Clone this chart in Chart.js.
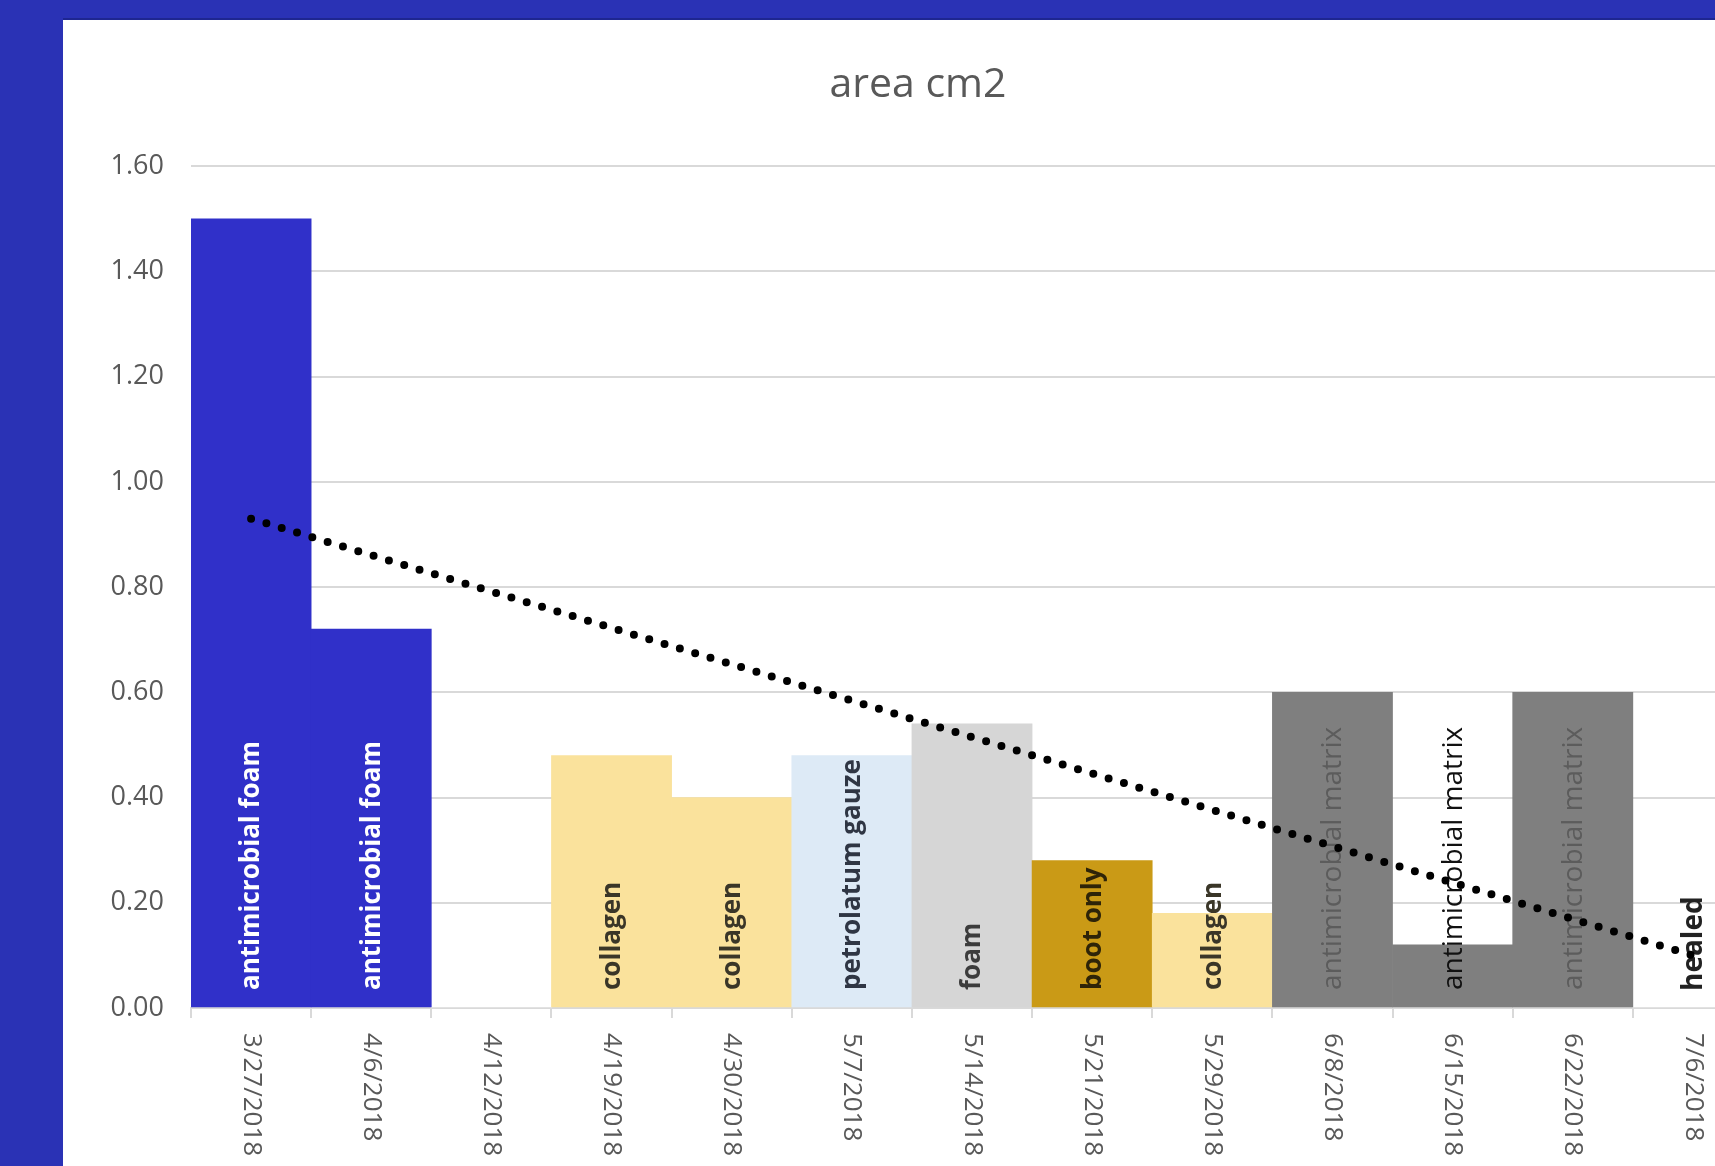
<!DOCTYPE html>
<html><head><meta charset="utf-8">
<script src="https://cdn.jsdelivr.net/npm/chart.js@4/dist/chart.umd.min.js"></script>
<style>
html,body{margin:0;padding:0;width:1715px;height:1166px;overflow:hidden;background:#2A32B5;}
#panel{position:absolute;left:63px;top:20px;width:1710px;height:1146px;background:#ffffff;box-shadow:0 -2px 0 #1E2690;}
canvas{position:absolute;left:0;top:0;}
</style></head><body>
<div id="panel"><canvas id="c" width="1710" height="1146"></canvas></div>
<script>
// ---- data ----
const dates = ['3/27/2018','4/6/2018','4/12/2018','4/19/2018','4/30/2018','5/7/2018','5/14/2018','5/21/2018','5/29/2018','6/8/2018','6/15/2018','6/22/2018','7/6/2018'];
const areas = [1.50, 0.72, 0, 0.48, 0.40, 0.48, 0.54, 0.28, 0.18, 0.60, 0.12, 0.60, 0];
const treatments = ['antimicrobial foam','antimicrobial foam','','collagen','collagen','petrolatum gauze','foam','boot only','collagen','antimicrobial matrix','antimicrobial matrix','antimicrobial matrix','healed'];
const trendDates = ['3/27/2018','7/6/2018'];
const trendValues = [0.93, 0.10];
const chartTitle = 'area cm2';

// ---- styles ----
const barColors = ['#3030C9','#3030C9','#ffffff','#FAE29C','#FAE29C','#DDEAF6','#D6D6D6','#CA9A16','#FAE29C','#7F7F7F','#7F7F7F','#7F7F7F','#ffffff'];
const labelColors = ['#ffffff','#ffffff','#000','#3a3628','#3a3628','#2f3644','#3c3c3c','#2e2408','#3a3628','#5c5c5c','#111111','#5c5c5c','#222222'];
const labelWeights = ['bold','bold','bold','bold','bold','bold','bold','bold','bold','normal','normal','normal','bold'];
const labelSizes = [26,26,26,26,26,26,26,26,26,28,28,28,28];
const FONT = '"Open Sans", "DejaVu Sans", sans-serif';

const labelPlugin = {
  id: 'barLabels',
  afterDatasetDraw(chart, args) {
    if (args.index !== 1) return;
    const ctx = chart.ctx;
    args.meta.data.forEach((bar, i) => {
      const t = treatments[i];
      if (!t) return;
      ctx.save();
      ctx.translate(bar.x + 1, bar.base - 17);
      ctx.rotate(-Math.PI / 2);
      ctx.font = labelWeights[i] + ' ' + labelSizes[i] + 'px ' + FONT;
      ctx.fillStyle = labelColors[i];
      ctx.textAlign = 'left';
      ctx.textBaseline = 'middle';
      ctx.fillText(t, 0, 0);
      ctx.restore();
    });
  },
  afterDraw(chart) {
    const xs = chart.scales.x;
    const ctx = chart.ctx;
    dates.forEach((d, i) => {
      const x = xs.getPixelForTick(i);
      ctx.save();
      ctx.translate(x, xs.top + 25);
      ctx.rotate(Math.PI / 2);
      ctx.font = '26px ' + FONT;
      ctx.fillStyle = '#595959';
      ctx.textAlign = 'left';
      ctx.textBaseline = 'middle';
      ctx.fillText(d, 0, 0);
      ctx.restore();
    });
  }
};

function build() {
  new Chart(document.getElementById('c'), {
    type: 'bar',
    data: {
      labels: dates,
      datasets: [
        {
          type: 'line',
          order: 0,
          data: trendDates.map((d, i) => ({ x: d, y: trendValues[i] })),
          borderColor: '#000000',
          borderWidth: 8,
          borderDash: [0, 16],
          borderCapStyle: 'round',
          pointRadius: 0,
          fill: false,
          tension: 0
        },
        {
          type: 'bar',
          order: 1,
          data: areas,
          backgroundColor: barColors,
          borderWidth: 0,
          barPercentage: 1,
          categoryPercentage: 1
        }
      ]
    },
    options: {
      responsive: false,
      animation: false,
      layout: { padding: { left: 20, right: 20, top: 0, bottom: 0 } },
      plugins: {
        legend: { display: false },
        tooltip: { enabled: false },
        title: {
          display: true,
          text: chartTitle,
          color: '#595959',
          font: { family: FONT, size: 41, weight: 'normal', lineHeight: 1.2 },
          padding: { top: 41, bottom: 56 }
        }
      },
      scales: {
        x: {
          offset: true,
          grid: { offset: true, drawOnChartArea: false, drawTicks: true, tickLength: 10, color: '#D9D9D9', lineWidth: 2 },
          border: { display: true, color: '#D9D9D9', width: 2 },
          ticks: { display: false },
          afterFit(s) { s.height = 158; }
        },
        y: {
          min: 0,
          max: 1.6,
          ticks: {
            stepSize: 0.2,
            padding: 27,
            color: '#595959',
            font: { family: FONT, size: 27 },
            callback: v => Number(v).toFixed(2)
          },
          grid: { color: '#D9D9D9', lineWidth: 2, drawTicks: false },
          border: { display: false },
          afterFit(s) { s.width = 108; }
        }
      }
    },
    plugins: [labelPlugin]
  });
}
Promise.all([
  document.fonts.load('22px "Open Sans"'),
  document.fonts.load('bold 22px "Open Sans"')
]).then(build, build);
</script>
</body></html>
